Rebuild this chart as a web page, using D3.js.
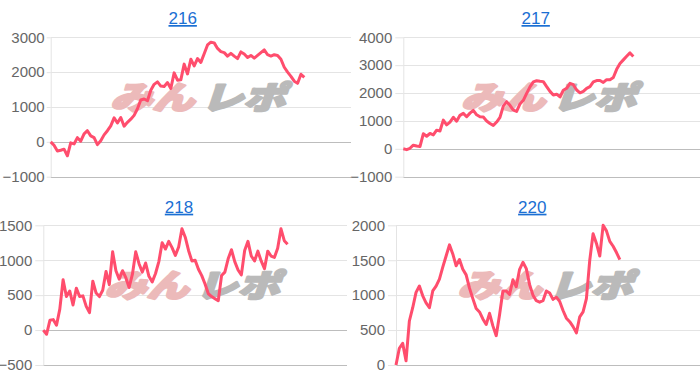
<!DOCTYPE html>
<html>
<head>
<meta charset="utf-8">
<script src="https://cdn.jsdelivr.net/npm/d3@7"></script>
<style>
	body { margin: 0; background: #fff; }
	svg text { font-family: "Liberation Sans", Helvetica, Arial, sans-serif; }
</style>
</head>
<body>
<div id="app"></div>
<script>
// machine numbers
const titles = ["216", "217", "218", "220"];

// difference per game
const values216 = [0, -100, -260, -240, -210, -400, -30, -60, 120, 20,
	230, 320, 170, 120, -80, 30, 200, 320, 460, 690,
	540, 700, 450, 560, 650, 760, 950, 1200, 1230, 1180,
	1480, 1650, 1720, 1600, 1590, 1700, 1530, 1980, 1770, 1780,
	2230, 1950, 2370, 2180, 2390, 2280, 2530, 2780, 2860, 2840,
	2680, 2590, 2560, 2460, 2540, 2460, 2390, 2580, 2520, 2420,
	2480, 2400, 2480, 2560, 2640, 2500, 2460, 2500, 2480, 2370,
	2140, 2000, 1880, 1740, 1680, 1940, 1850];
const values217 = [0, -30, 20, 130, 100, 80, 540, 450, 550, 500,
	670, 640, 1030, 860, 960, 1130, 990, 1200, 1270, 1150,
	1280, 1380, 1220, 1150, 1140, 1000, 910, 840, 960, 1130,
	1530, 1690, 1560, 1390, 1340, 1610, 1740, 1990, 2220, 2400,
	2440, 2420, 2410, 2230, 2060, 1930, 1960, 1860, 2100, 2170,
	2350, 2300, 2110, 2010, 2060, 2170, 2230, 2400, 2450, 2450,
	2380, 2480, 2480, 2560, 2850, 3060, 3190, 3320, 3440, 3310];
const values218 = [0, -60, 140, 150, 70, 300, 720, 480, 560, 360,
	600, 480, 490, 340, 250, 700, 530, 480, 570, 840,
	650, 1120, 850, 730, 850, 750, 610, 800, 1120, 950,
	830, 960, 770, 690, 810, 980, 1250, 1160, 1270, 1180,
	1070, 1190, 1450, 1330, 1140, 990, 1000, 870, 780, 660,
	520, 480, 450, 420, 780, 830, 1020, 1150, 980, 860,
	790, 1140, 1270, 1060, 990, 1130, 990, 880, 1130, 1060,
	1040, 1170, 1450, 1280, 1230];
const values220 = [0, 240, 310, 60, 630, 820, 1040, 1130, 990, 890,
	820, 1060, 1130, 1230, 1400, 1560, 1720, 1590, 1420, 1510,
	1370, 1290, 1100, 950, 810, 760, 660, 580, 740, 560,
	420, 720, 1060, 1060, 1010, 1220, 1120, 1370, 1470, 1380,
	1150, 1000, 920, 900, 920, 1060, 1030, 940, 970, 910,
	780, 670, 620, 550, 460, 690, 760, 950, 1500, 1880,
	1740, 1560, 2000, 1920, 1770, 1700, 1610, 1510];

// y tick labels
const yTicks216 = [-1000, 0, 1000, 2000, 3000];
const yTicks217 = [-1000, 0, 1000, 2000, 3000, 4000];
const yTicks218 = [-500, 0, 500, 1000, 1500];
const yTicks220 = [0, 500, 1000, 1500, 2000];

// number of x slots on each axis (the day is not over yet)
const xSlots = [90, 89, 92, 91];

let svg = d3.select("#app")
	.append("svg")
	.attr("width", 700)
	.attr("height", 382);

// layout of the 4 small charts
let boxes = [
	{ left: 50.7, right: 351, top: 37.3, bottom: 176.7, tick: 4, pad: 2, titleX: 182.7, titleY: 24 },
	{ left: 403.3, right: 700, top: 37.3, bottom: 176.7, tick: 8, pad: 3, titleX: 535.7, titleY: 24 },
	{ left: 43.3, right: 347, top: 225.3, bottom: 365, tick: 8, pad: 3, titleX: 179, titleY: 212.7 },
	{ left: 396, right: 700, top: 225.3, bottom: 365, tick: 8, pad: 3, titleX: 532.3, titleY: 212.7 }
];

renderPanel(svg, titles[0], values216, yTicks216, xSlots[0], boxes[0]);
renderPanel(svg, titles[1], values217, yTicks217, xSlots[1], boxes[1]);
renderPanel(svg, titles[2], values218, yTicks218, xSlots[2], boxes[2]);
renderPanel(svg, titles[3], values220, yTicks220, xSlots[3], boxes[3]);

function renderPanel(svg, title, values, ticks, slots, box) {
	let x = d3.scaleLinear()
		.domain([0, slots])
		.range([box.left, box.right]);

	let y = d3.scaleLinear()
		.domain(d3.extent(ticks))
		.range([box.bottom, box.top]);

	// Title (looks like a link)
	svg.append("text")
		.attr("x", box.titleX)
		.attr("y", box.titleY)
		.attr("text-anchor", "middle")
		.style("font-size", "17px")
		.style("text-decoration", "underline")
		.attr("fill", "#1b6fd3")
		.text(title);

	// Grid lines
	svg.append("g")
		.selectAll("line")
		.data(ticks)
		.enter()
		.append("line")
			.attr("x1", box.left)
			.attr("x2", box.right)
			.attr("y1", d => Math.round(y(d)) + 0.5)
			.attr("y2", d => Math.round(y(d)) + 0.5)
			.attr("stroke", d => (d === 0 || d === ticks[0]) ? "#bdbdbd" : "#e4e4e4")
			.attr("stroke-width", 1);

	// y axis
	let axis = svg.append("g")
		.attr("transform", "translate(" + box.left + ",0)")
		.call(d3.axisLeft(y)
			.tickValues(ticks)
			.tickSize(box.tick)
			.tickSizeOuter(0)
			.tickPadding(box.pad)
			.tickFormat(d3.format("d")));

	axis.select(".domain").attr("stroke", "#e4e4e4");
	axis.selectAll(".tick line").attr("stroke", "#e4e4e4");
	axis.selectAll("text")
		.style("font-size", "15px")
		.attr("fill", "#666");

	// watermark
	let cx = (box.left + box.right) / 2;
	let cy = box.top + (box.bottom - box.top) * 0.43;
	let wm = svg.append("g")
		.attr("transform", "translate(" + cx + "," + cy + ") scale(1.4,1.05) skewX(-14)")
		.style("font-weight", 900)
		.style("font-size", "30px");
	wm.append("text")
		.attr("x", -2)
		.attr("dy", "0.36em")
		.attr("text-anchor", "end")
		.attr("fill", "#ecbaba")
		.attr("stroke", "#ecbaba")
		.attr("stroke-width", 2.2)
		.attr("stroke-linejoin", "round")
		.style("font-family", "'Noto Sans CJK JP', sans-serif")
		.text("みん");
	wm.append("text")
		.attr("x", 3)
		.attr("dy", "0.36em")
		.attr("text-anchor", "start")
		.attr("fill", "#bababa")
		.attr("stroke", "#bababa")
		.attr("stroke-width", 2.2)
		.attr("stroke-linejoin", "round")
		.style("font-family", "'Noto Sans CJK JP', sans-serif")
		.text("レポ");

	// the line
	let line = d3.line()
		.x((d, i) => x(i))
		.y(d => y(d));

	svg.append("path")
		.datum(values)
		.attr("d", line)
		.attr("fill", "none")
		.attr("stroke", "#ff4d6d")
		.attr("stroke-width", 3)
		.attr("stroke-linejoin", "round");
}
</script>
</body>
</html>
